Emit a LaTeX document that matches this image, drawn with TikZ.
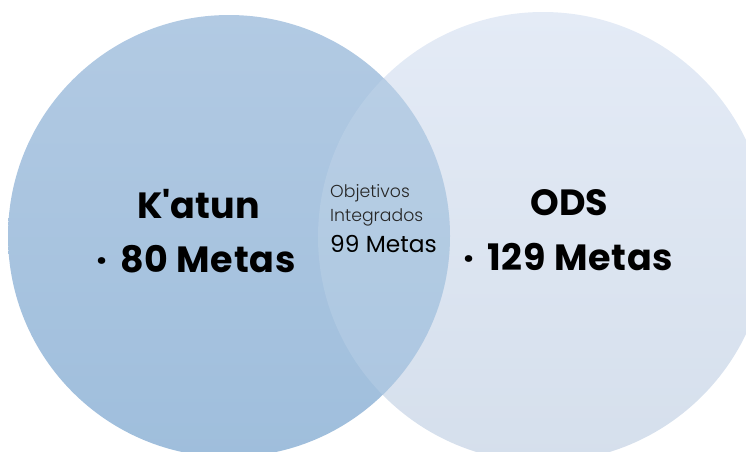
\documentclass[tikz,border=0pt]{standalone}
\usepackage{fontspec}
\setmainfont{Poppins}[Ligatures=TeXOff]
\newfontfamily\lightfont{Poppins Light}[Ligatures=TeXOff]
\definecolor{ltop}{RGB}{178,202,227}
\definecolor{lbot}{RGB}{159,190,220}
\definecolor{rtop}{RGB}{228,235,246}
\definecolor{rbot}{RGB}{213,223,236}
\begin{document}
\begin{tikzpicture}[x=1pt,y=-1pt,
  setcircle/.style={circle,inner sep=0pt,draw=none},
  bigtxt/.style={anchor=base,inner sep=0pt,font=\fontsize{36.5}{40}\selectfont\bfseries},
  metas/.style={anchor=base west,inner sep=0pt,font=\fontsize{36.5}{40}\selectfont\bfseries\addfontfeature{LetterSpace=2}},
  midlight/.style={anchor=base west,inner sep=0pt,font=\fontsize{17.3}{19}\selectfont\lightfont,text=black!85},
  midreg/.style={anchor=base west,inner sep=0pt,font=\fontsize{23.3}{26}\selectfont}]
\useasboundingbox (0,0) rectangle (746,451);
\clip (0,0) rectangle (746,451);
\node[setcircle,minimum size=450pt,top color=rtop,bottom color=rbot] (R) at (543,237) {};
\node[setcircle,minimum size=442pt,top color=ltop,bottom color=lbot] (L) at (229,236) {};
\begin{scope}
  \clip (229,236) circle (221pt);
  \fill[white,fill opacity=0.12] (543,237) circle (225pt);
\end{scope}
\node[bigtxt] (katun) at (198.5,218) {K'atun};
\node[metas] (m80) at (96,272) {·\hspace{13pt}80 Metas};
\node[bigtxt] (ods) at (569.5,215) {ODS};
\node[metas] (m129) at (463,270) {·\hspace{13pt}129 Metas};
\node[midlight] (obj) at (330,197) {Objetivos};
\node[midlight] (integ) at (330,221) {Integrados};
\node[midreg] (m99) at (330,252) {99 Metas};
\end{tikzpicture}
\end{document}
